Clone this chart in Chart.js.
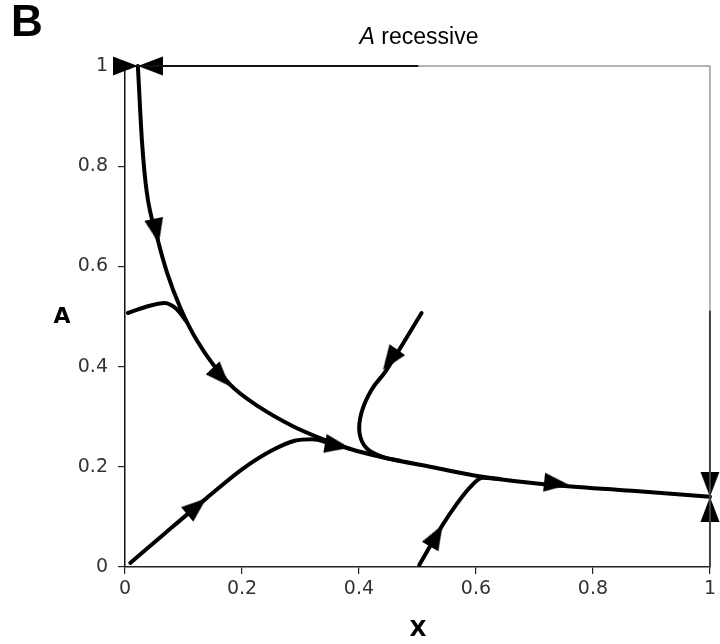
<!DOCTYPE html>
<html lang="en">

<head>
    <meta charset="UTF-8">
    <title>A recessive</title>
    <script src="https://cdn.jsdelivr.net/npm/chart.js"></script>
    <style>
        body {
            margin: 0;
            background: #fff;
        }
    </style>
</head>

<body>
    <canvas id="phase" width="720" height="644"></canvas>

    <script type="text/javascript">
        // trajectories (X, A)
        var mainX = [0.022, 0.029, 0.037, 0.056, 0.072, 0.094, 0.123, 0.179, 0.23, 0.287, 0.328, 0.384, 0.44, 0.526, 0.611, 0.725, 0.867, 1.0];
        var mainY = [1.0, 0.85, 0.75, 0.653, 0.587, 0.519, 0.452, 0.365, 0.319, 0.281, 0.26, 0.236, 0.219, 0.199, 0.18, 0.164, 0.152, 0.14];

        var leftX = [0.005, 0.035, 0.068, 0.088, 0.105];
        var leftY = [0.507, 0.519, 0.527, 0.515, 0.49];

        var originX = [0.009, 0.07, 0.14, 0.2, 0.25, 0.29, 0.32, 0.35, 0.384];
        var originY = [0.008, 0.069, 0.138, 0.195, 0.232, 0.252, 0.255, 0.247, 0.236];

        var upperX = [0.507, 0.447, 0.421, 0.404, 0.401, 0.413, 0.44, 0.47];
        var upperY = [0.507, 0.393, 0.353, 0.307, 0.267, 0.237, 0.22, 0.212];

        var lowerX = [0.503, 0.543, 0.566, 0.589, 0.611, 0.64];
        var lowerY = [0.004, 0.084, 0.124, 0.158, 0.178, 0.176];

        // edge trajectories along A = 1 and X = 1
        var topEdgeX = [0.5, 0.022];
        var topEdgeY = [1, 1];
        var rightEdgeX = [1, 1];
        var rightEdgeY = [0, 0.51];

        // arrow heads: tip position and heading (degrees, clockwise from up)
        var arrowX = [0.058, 0.179, 0.384, 0.441, 0.139, 0.543, 0.759, 0.022, 0.022, 1, 1];
        var arrowY = [0.646, 0.361, 0.238, 0.393, 0.137, 0.084, 0.164, 1, 1, 0.14, 0.14];
        var arrowAngle = [168, 137, 100, 215, 50, 30, 96, 90, 270, 180, 0];

        var tickValues = [0, 0.2, 0.4, 0.6, 0.8, 1];

        function pts(xs, ys) {
            return xs.map(function (x, i) { return { x: x, y: ys[i] }; });
        }

        // arrowhead image, tip in the centre pointing up
        function makeArrow() {
            var c = document.createElement('canvas');
            c.width = 50;
            c.height = 50;
            var g = c.getContext('2d');
            g.fillStyle = '#000';
            g.beginPath();
            g.moveTo(25, 25);
            g.lineTo(34.5, 50);
            g.lineTo(15.5, 50);
            g.closePath();
            g.fill();
            return c;
        }
        var arrowImg = makeArrow();

        function trajectory(xs, ys, width, color, monotone) {
            return {
                data: pts(xs, ys),
                showLine: true,
                borderColor: color || '#000',
                borderWidth: width || 4,
                tension: 0.4,
                cubicInterpolationMode: monotone ? 'monotone' : 'default',
                pointRadius: 0,
                borderCapStyle: 'round',
                borderJoinStyle: 'round',
                fill: false,
                clip: false
            };
        }

        // frame, title and axis names
        var extras = {
            id: 'extras',
            beforeDatasetsDraw: function (chart) {
                var a = chart.chartArea, ctx = chart.ctx;
                ctx.save();
                ctx.strokeStyle = '#9a9a9a';
                ctx.lineWidth = 1.5;
                ctx.beginPath();
                ctx.moveTo(a.left, a.top);
                ctx.lineTo(a.right, a.top);
                ctx.lineTo(a.right, a.bottom);
                ctx.stroke();
                ctx.restore();
            },
            afterDraw: function (chart) {
                var ctx = chart.ctx;
                ctx.save();
                ctx.fillStyle = '#000';
                ctx.textBaseline = 'middle';

                ctx.font = 'bold 44px "Liberation Sans"';
                ctx.textAlign = 'left';
                ctx.fillText('B', 11, 24);

                ctx.font = 'italic 23px "Liberation Sans"';
                var w1 = ctx.measureText('A').width;
                ctx.font = '23px "Liberation Sans"';
                var w2 = ctx.measureText(' recessive').width;
                var x0 = 419 - (w1 + w2) / 2;
                ctx.font = 'italic 23px "Liberation Sans"';
                ctx.fillText('A', x0, 38);
                ctx.font = '23px "Liberation Sans"';
                ctx.fillText(' recessive', x0 + w1, 38);

                ctx.textAlign = 'center';
                ctx.font = 'bold 22px "DejaVu Sans"';
                ctx.fillText('A', 62, 317);
                ctx.fillText('X', 418, 630);
                ctx.restore();
            }
        };

        function tickLabel(v) {
            return String(Math.round(v * 10) / 10);
        }

        var ctx = document.getElementById('phase').getContext('2d');
        var grafico = new Chart(ctx, {
            type: 'scatter',
            data: {
                datasets: [
                    trajectory(topEdgeX, topEdgeY, 2, '#111'),
                    trajectory(rightEdgeX, rightEdgeY, 2, '#444'),
                    trajectory(mainX, mainY, 4, '#000', true),
                    trajectory(leftX, leftY, 4, '#000', true),
                    trajectory(originX, originY, 4, '#000', true),
                    trajectory(upperX, upperY),
                    trajectory(lowerX, lowerY, 4, '#000', true),
                    {
                        data: pts(arrowX, arrowY),
                        pointStyle: arrowImg,
                        pointRadius: 6,
                        rotation: function (c) { return arrowAngle[c.dataIndex]; },
                        clip: false
                    }
                ]
            },
            options: {
                responsive: false,
                animation: false,
                events: [],
                layout: {
                    padding: { left: 0, right: 9, top: 66, bottom: 0 }
                },
                plugins: {
                    legend: { display: false },
                    tooltip: { enabled: false }
                },
                scales: {
                    x: {
                        type: 'linear',
                        min: 0,
                        max: 1,
                        afterFit: function (s) { s.height = 77; },
                        afterBuildTicks: function (s) {
                            s.ticks = tickValues.map(function (v) { return { value: v }; });
                        },
                        border: { color: '#222', width: 1.5 },
                        grid: { drawOnChartArea: false, tickLength: 7, color: '#222', lineWidth: 1.2 },
                        ticks: {
                            padding: 4,
                            color: '#333',
                            callback: tickLabel,
                            font: { family: 'DejaVu Sans', size: 19 }
                        }
                    },
                    y: {
                        type: 'linear',
                        min: 0,
                        max: 1,
                        afterFit: function (s) { s.width = 125; },
                        afterBuildTicks: function (s) {
                            s.ticks = tickValues.map(function (v) { return { value: v }; });
                        },
                        border: { color: '#111', width: 1.5 },
                        grid: { drawOnChartArea: false, tickLength: 7, color: '#222', lineWidth: 1.2 },
                        ticks: {
                            padding: 10,
                            color: '#333',
                            callback: tickLabel,
                            font: { family: 'DejaVu Sans', size: 19 }
                        }
                    }
                }
            },
            plugins: [extras]
        });
    </script>

</body>

</html>
